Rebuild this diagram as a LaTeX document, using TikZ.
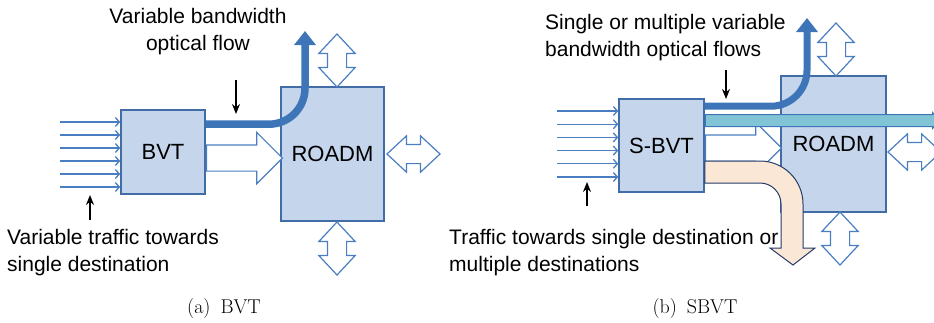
\documentclass[tikz,border=0pt]{standalone}
\usepackage{fontspec}
\newfontfamily\labfont{Liberation Sans}
\usetikzlibrary{arrows.meta}
\usetikzlibrary{shapes.arrows}
\usetikzlibrary{positioning}
\definecolor{boxfill}{RGB}{197,213,236}
\definecolor{boxline}{RGB}{66,108,165}
\definecolor{flowblue}{RGB}{62,117,185}
\definecolor{openblue}{RGB}{74,126,194}
\definecolor{cyanbar}{RGB}{128,196,214}
\definecolor{peach}{RGB}{251,231,214}
\definecolor{peachline}{RGB}{35,60,105}
\tikzset{
    block/.style={
           rectangle,
           draw=boxline, line width=1.6pt,
           fill=boxfill,
           inner sep=0pt,
           font=\labfont\fontsize{22}{26}\selectfont,
           text centered,
           },
    sidetext/.style={
           font=\labfont\fontsize{21}{27}\selectfont,
           inner sep=0pt,
           },
    captext/.style={
           font=\fontsize{20}{24}\selectfont,
           inner sep=0pt,
           },
    feed/.style={draw=openblue, line width=1.3pt, -{Straight Barb[length=4pt,width=9pt]}},
    pointer/.style={draw=black, line width=1.3pt, -{Stealth[length=10pt,width=8pt]}},
    flow/.style={draw=flowblue, line width=7.5pt, rounded corners=36pt, -{Triangle[length=14pt,width=21pt]}},
    bigarrow/.style={
           single arrow, draw=openblue, fill=white, line width=1.2pt,
           minimum height=76pt, inner xsep=0pt, inner ysep=12.5pt,
           single arrow head extend=12.5pt, single arrow tip angle=90,
           },
    dblarrow/.style={
           double arrow, draw=openblue, fill=white, line width=1.2pt,
           minimum height=53pt, inner xsep=0pt, inner ysep=9pt,
           double arrow head extend=8.5pt, double arrow tip angle=86,
           },
}
\begin{document}
\begin{tikzpicture}[x=1pt, y=-1pt]
	\useasboundingbox (0,0) rectangle (934,322);
	\clip (0,0) rectangle (934,322);

	% (a) BVT
	\node[block, minimum width=103pt, minimum height=134pt] (roadm) at (332.5,154) {ROADM};
	\node[block, minimum width=84pt, minimum height=84pt] (bvt) at (163,152) {BVT};

	\foreach \i in {0,...,5}
		\draw[feed] (60,122+13*\i) coordinate (in\i) -- (in\i -| bvt.west);

	\node[bigarrow, anchor=tail] (fwd) at (bvt.east |- 0,158) {};
	\coordinate (flowtip) at (305,31);
	\draw[flow] ([yshift=-15pt]bvt.north east) -| (flowtip);

	\node[dblarrow, rotate=90] (upa) at (337,60.5) {};
	\node[dblarrow, rotate=90] (downa) at (337,248.5) {};
	\node[dblarrow] (sidea) at (413.5,154) {};

	\coordinate (pa1) at (236,80);
	\coordinate (pa2) at (90,220);
	\draw[pointer] (pa1) -- ++(0,34);
	\draw[pointer] (pa2) -- ++(0,-25);

	\node[sidetext, align=center] (flowtext) at (198,32) {Variable bandwidth\\optical flow};
	\node[sidetext, align=left, anchor=west] (traffictext) at (7,253) {Variable traffic towards\\single destination};
	\node[captext, anchor=base] (capa) at (224,313) {(a)\enspace BVT};

	% (b) SBVT
	\node[block, minimum width=105pt, minimum height=136pt] (roadmb) at (833.5,144) {ROADM};
	\node[block, minimum width=85pt, minimum height=93pt] (sbvt) at (661.5,145.5) {S-BVT};

	\foreach \i in {0,...,5}
		\draw[feed] (557,111+13.2*\i) coordinate (inb\i) -- (inb\i -| sbvt.west);

	\node[bigarrow, anchor=tail] (fwdb) at (sbvt.east |- 0,148) {};
	\node[single arrow, fill=cyanbar, draw=flowblue, line width=1pt,
		minimum height=234pt, inner xsep=0pt, inner ysep=5.5pt,
		single arrow head extend=2pt, single arrow tip angle=100,
		anchor=tail] (pass) at (sbvt.east |- 0,120.5) {};
	\coordinate (flowtipb) at (807,18);
	\draw[flow, line width=7pt] ([yshift=-8pt]sbvt.north east) -| (flowtipb);

	\draw[peachline, fill=peach, line width=1pt]
		(sbvt.east |- 0,161) -- (760,161) arc[start angle=90, end angle=0, radius=43pt]
		-- (803,248) -- (815,248) -- (793,265) -- (770,248) -- (781,248)
		-- (781,204) arc[start angle=0, end angle=90, radius=21pt]
		-- (sbvt.east |- 0,183) -- cycle;

	\node[dblarrow, rotate=90] (upb) at (836,49.5) {};
	\node[dblarrow, rotate=90] (downb) at (840,238.5) {};
	\node[dblarrow] (sideb) at (914.5,152) {};

	\coordinate (pb1) at (726,70);
	\coordinate (pb2) at (587,206);
	\draw[pointer] (pb1) -- ++(0,29);
	\draw[pointer] (pb2) -- ++(0,-24);

	\node[sidetext, align=left, anchor=west] (flowtextb) at (545,38) {Single or multiple variable\\bandwidth optical flows};
	\node[sidetext, align=left, anchor=west] (traffictextb) at (449,253) {Traffic towards single destination or\\multiple destinations};
	\node[captext, anchor=base] (capb) at (695,313) {(b)\enspace SBVT};
\end{tikzpicture}
\end{document}
